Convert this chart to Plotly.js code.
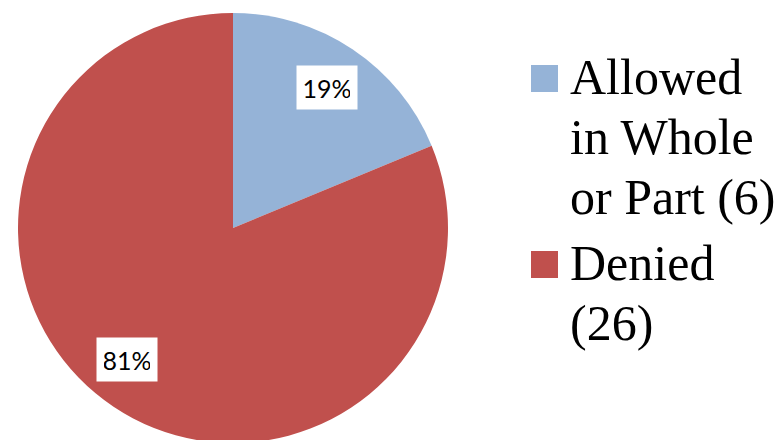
<!DOCTYPE html>
<html>
<head>
<meta charset="utf-8">
<script src="https://cdn.plot.ly/plotly-3.0.1.min.js"></script>
<style>
html,body{margin:0;padding:0;overflow:hidden;background:#fff;}
#chart{width:784px;height:443px;}
</style>
</head>
<body>
<div id="chart"></div>
<script>
// ---- data ----
const categories = ["Allowed in Whole or Part", "Denied"];
const counts = [6, 26];
const legendLines = [["Allowed", "in Whole", "or Part (6)"], ["Denied", "(26)"]];
const colors = ["#95B3D7", "#C0504D"];

// ---- layout geometry ----
const W = 784, H = 443;
const M = {l: 18, r: 0, t: 13, b: 0};
const plotW = W - M.l - M.r, plotH = H - M.t - M.b;
const pieSize = Math.min(plotH, plotW);
const domX = [0, pieSize / plotW];
const domY = [0, 1];

const total = counts.reduce((a, b) => a + b, 0);

// percent label annotations positioned from slice mid-angles
const labelAngleShiftDeg = [0, 5];
const labelRadius = 0.785;
const annotations = [];
let cum = 0;
const cxPaper = (domX[0] + domX[1]) / 2;
const cyPaper = (domY[0] + domY[1]) / 2;
const rX = (pieSize / 2) / plotW;
const rY = (pieSize / 2) / plotH;
counts.forEach((v, i) => {
  const frac = v / total;
  const mid = (cum + frac / 2) * 2 * Math.PI + labelAngleShiftDeg[i] * Math.PI / 180;
  cum += frac;
  annotations.push({
    xref: "paper", yref: "paper",
    x: cxPaper + labelRadius * rX * Math.sin(mid),
    y: cyPaper + labelRadius * rY * Math.cos(mid),
    text: Math.round(frac * 100) + "%",
    showarrow: false,
    xanchor: "center", yanchor: "middle",
    width: 46, height: 29,
    bgcolor: "#ffffff",
    borderpad: 7,
    font: {family: "Lato", size: 25, color: "#000000"}
  });
});

// custom legend (large swatches, serif text)
const px2x = px => (px - M.l) / plotW;
const py2y = py => 1 - (py - M.t) / plotH;
const legendTops = [65, 251];
const lineGap = 60;
const firstLineCenters = [77, 263];
const shapes = [];
legendLines.forEach((lines, i) => {
  shapes.push({
    type: "rect", xref: "paper", yref: "paper",
    x0: px2x(531), x1: px2x(558),
    y0: py2y(legendTops[i]), y1: py2y(legendTops[i] + 27),
    fillcolor: colors[i], line: {width: 0}
  });
  lines.forEach((txt, j) => {
    annotations.push({
      xref: "paper", yref: "paper",
      x: px2x(569), y: py2y(firstLineCenters[i] + j * lineGap),
      xanchor: "left", yanchor: "middle", align: "left",
      text: txt, showarrow: false, borderpad: 0,
      font: {family: "Liberation Serif", size: 50, color: "#000000"}
    });
  });
});

const trace = {
  type: "pie",
  labels: categories,
  values: counts,
  marker: {colors: colors, line: {width: 0}},
  sort: false,
  direction: "clockwise",
  rotation: 0,
  textinfo: "none",
  hoverinfo: "label+value+percent",
  domain: {x: domX, y: domY},
  showlegend: false
};

Plotly.newPlot("chart", [trace], {
  width: W, height: H,
  margin: M,
  paper_bgcolor: "#ffffff",
  plot_bgcolor: "#ffffff",
  showlegend: false,
  annotations: annotations,
  shapes: shapes
}, {displayModeBar: false, staticPlot: true});
</script>
</body>
</html>
